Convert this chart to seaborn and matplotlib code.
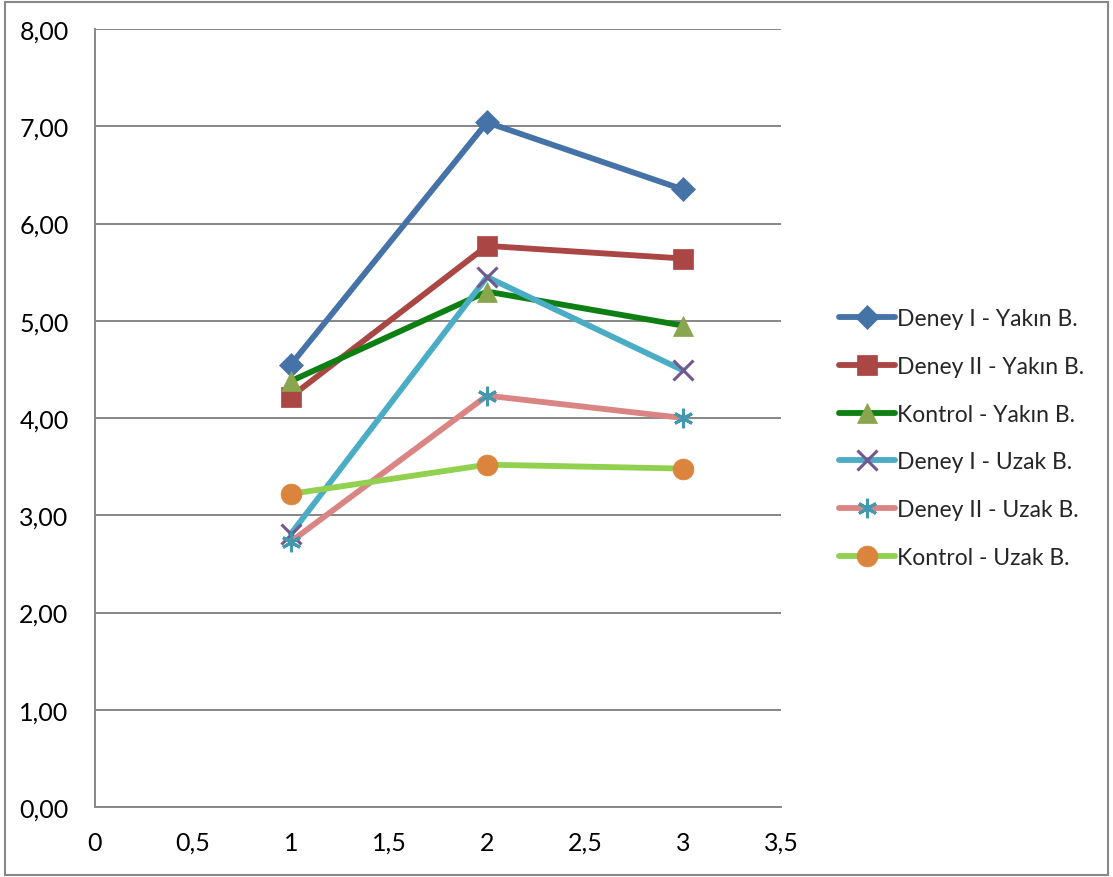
import matplotlib
matplotlib.use("Agg")
import matplotlib.pyplot as plt
import matplotlib.ticker as mticker
from matplotlib.patches import Rectangle
import pandas as pd
import seaborn as sns

# Measurement sessions (x positions)
sessions = [1, 2, 3]

series_names = [
    "Deney I - Yakın B.",
    "Deney II - Yakın B.",
    "Kontrol - Yakın B.",
    "Deney I - Uzak B.",
    "Deney II - Uzak B.",
    "Kontrol - Uzak B.",
]

deney1_yakin = [4.55, 7.04, 6.35]
deney2_yakin = [4.22, 5.77, 5.64]
kontrol_yakin = [4.38, 5.30, 4.95]
deney1_uzak = [2.81, 5.45, 4.49]
deney2_uzak = [2.73, 4.23, 4.00]
kontrol_uzak = [3.22, 3.52, 3.48]

all_values = [deney1_yakin, deney2_yakin, kontrol_yakin,
              deney1_uzak, deney2_uzak, kontrol_uzak]

x_ticks = [0, 0.5, 1, 1.5, 2, 2.5, 3, 3.5]
y_ticks = [0, 1, 2, 3, 4, 5, 6, 7, 8]

# line colour, marker, marker face colour, marker size
styles = [
    ("#4572A7", "D", "#4572A7", 12),
    ("#AA4643", "s", "#AA4643", 14),
    ("#0E7F12", "^", "#89A54E", 14),
    ("#4BACC6", "x", "#71588F", 14),
    ("#DA8584", "*", "#4198AF", 14),
    ("#92D050", "o", "#DB843D", 15),
]

df = pd.DataFrame({
    "x": sessions * len(series_names),
    "y": [v for vals in all_values for v in vals],
    "series": [n for n in series_names for _ in sessions],
})

sns.set_theme(style="white")
plt.rcParams["font.family"] = ["Lato", "DejaVu Sans"]

fig = plt.figure(figsize=(11.13, 8.78), dpi=100)
ax = fig.add_axes([95 / 1113, 1 - 808 / 878, (781 - 95) / 1113, (808 - 30) / 878])

for name, (lc, mk, mfc, ms) in zip(series_names, styles):
    sub = df[df["series"] == name]
    if mk == "x":
        kw = dict(markeredgecolor=mfc, markeredgewidth=2.2)
    elif mk == "*":
        kw = dict(markeredgecolor=mfc, markerfacecolor="none", markeredgewidth=2.2)
        mk = (6, 2, 0)
    else:
        kw = dict(markeredgecolor=mfc, markerfacecolor=mfc, markeredgewidth=0.5)
    sns.lineplot(data=sub, x="x", y="y", ax=ax, color=lc, linewidth=4.2,
                 marker=mk, markersize=ms, label=name, **kw)

ax.set_xlim(0, 3.5)
ax.set_ylim(0, 8)
ax.set_xticks(x_ticks)
ax.set_yticks(y_ticks)
ax.xaxis.set_major_formatter(mticker.FuncFormatter(
    lambda v, p: ("%g" % v).replace(".", ",")))
ax.yaxis.set_major_formatter(mticker.FuncFormatter(
    lambda v, p: ("%.2f" % v).replace(".", ",")))
ax.set_xlabel("")
ax.set_ylabel("")

ax.grid(axis="y", color="#868686", linewidth=1.4)
ax.grid(axis="x", visible=False)
for side in ("top", "right"):
    ax.spines[side].set_visible(False)
for side in ("left", "bottom"):
    ax.spines[side].set_color("#868686")
    ax.spines[side].set_linewidth(1.4)
ax.tick_params(axis="both", which="major", direction="out", length=7,
               width=1.4, color="#868686", labelsize=18, labelcolor="black")
ax.tick_params(axis="x", pad=10)
ax.tick_params(axis="y", pad=12)

leg = ax.legend(loc="center left", bbox_to_anchor=(839 / 1113, 1 - 439 / 878),
                bbox_transform=fig.transFigure, frameon=False, fontsize=16.5,
                handlelength=2.45, handletextpad=0.1, labelspacing=1.17,
                borderaxespad=0, borderpad=0)

fig.patches.append(Rectangle((5 / 1113, 2 / 878), 1103 / 1113, 873 / 878,
                             transform=fig.transFigure, fill=False,
                             edgecolor="#888888", linewidth=1.5))

fig.savefig("out.png", dpi=100)
